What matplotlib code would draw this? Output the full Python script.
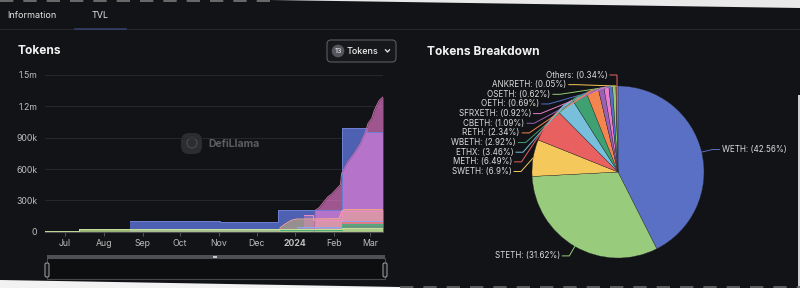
import numpy as np
import pandas as pd
import matplotlib
matplotlib.use('Agg')
import matplotlib.pyplot as plt
from matplotlib.patches import FancyBboxPatch, Rectangle, Circle, Polygon

plt.rcParams['font.family'] = ['Inter', 'DejaVu Sans']

# TVL per token, thousands of USD (value holds until next date)
steth_dates = ['2023-08-22', '2023-10-12', '2023-11-02', '2023-12-18', '2024-02-07', '2024-02-27', '2024-03-11']
steth_tvl = [105, 101, 95, 207, 997, 955, 955]

weth_dates = ['2024-01-16', '2024-01-17', '2024-01-20', '2024-01-23', '2024-01-27', '2024-01-30',
              '2024-02-02', '2024-02-06', '2024-02-07', '2024-02-12', '2024-02-17', '2024-02-22',
              '2024-02-26', '2024-02-28', '2024-03-02', '2024-03-04', '2024-03-06', '2024-03-08', '2024-03-11']
weth_tvl = [0, 205, 230, 275, 334, 360, 398, 450, 560, 670, 750, 845, 955, 1035, 1085, 1160, 1210, 1258, 1290]

sweth_dates = ['2023-12-19', '2023-12-20', '2023-12-24', '2023-12-29', '2024-01-02', '2024-02-05',
               '2024-02-07', '2024-02-09', '2024-03-11']
sweth_tvl = [0, 40, 75, 110, 121, 125, 195, 211, 211]

meth_dates = ['2024-01-08', '2024-01-15', '2024-02-07', '2024-03-11']
meth_tvl = [160, 108, 198, 198]

ethx_dates = ['2024-01-02', '2024-02-07', '2024-03-11']
ethx_tvl = [45, 106, 106]

wbeth_dates = ['2024-01-10', '2024-02-07', '2024-03-11']
wbeth_tvl = [30, 89, 89]

reth_dates = ['2023-12-20', '2024-02-07', '2024-03-11']
reth_tvl = [20, 71, 71]

cbeth_dates = ['2023-06-15', '2023-07-12', '2023-12-20', '2024-02-07', '2024-03-11']
cbeth_tvl = [10, 22, 26, 33, 33]

y_ticks = [0, 300, 600, 900, 1200, 1500]
month_labels = ['Jul', 'Aug', 'Sep', 'Oct', 'Nov', 'Dec', '2024', 'Feb', 'Mar']

# breakdown pie (%)
pie_names = ['WETH', 'STETH', 'SWETH', 'METH', 'ETHX', 'WBETH', 'RETH', 'CBETH',
             'SFRXETH', 'OETH', 'OSETH', 'ANKRETH', 'Others']
pie_share = [42.56, 31.62, 6.9, 6.49, 3.46, 2.92, 2.34, 1.09, 0.92, 0.69, 0.62, 0.05, 0.34]
pie_colors = ['#5a70c4', '#98cb7b', '#f5c85c', '#e8605f', '#78bfdc', '#3fa172', '#f5854f',
              '#9a60b4', '#e97ccb', '#5470c6', '#91cc75', '#fac858', '#ee6666']

BG = '#121316'
W, H = 800, 288

fig = plt.figure(figsize=(8, 2.88), dpi=100, facecolor=BG)

# page chrome, pixel coordinates
bg = fig.add_axes([0, 0, 1, 1])
bg.set_xlim(0, W)
bg.set_ylim(H, 0)
bg.axis('off')

bg.text(7, 16, 'Information', fontsize=6.5, color='#e6e6e6', va='center')
bg.text(92, 16, 'TVL', fontsize=6.5, color='#e6e6e6', va='center')
bg.plot([0, W], [28.5, 28.5], color='#25272b', lw=0.8)
bg.plot([75, 126], [28.5, 28.5], color='#34406a', lw=1.2)

bg.text(18, 51, 'Tokens', fontsize=8.6, weight='bold', color='#f2f2f2', va='center')
bg.text(427, 52, 'Tokens Breakdown', fontsize=8.6, weight='bold', color='#f2f2f2', va='center')

# "13 Tokens" selector
bg.add_patch(FancyBboxPatch((327, 40), 69, 22, boxstyle='round,pad=0,rounding_size=4',
                            fc='#17181b', ec='#5a5b60', lw=0.8))
bg.add_patch(Circle((338, 51), 6.3, fc='#55565d', ec='none'))
bg.text(338, 51.3, '13', fontsize=5.3, color='#f0f0f0', ha='center', va='center')
bg.text(347, 51.3, 'Tokens', fontsize=6.5, color='#f0f0f0', va='center', weight='medium')
bg.plot([385.5, 387.5, 389.5], [49.8, 52, 49.8], color='#f0f0f0', lw=0.9)

# watermark
bg.add_patch(FancyBboxPatch((181, 133), 21, 21, boxstyle='round,pad=0,rounding_size=8',
                            fc='#2c2d30', ec='none'))
bg.add_patch(Circle((192, 143), 5, fc='none', ec='#45464a', lw=1))
bg.text(208, 144, 'DefiLlama', fontsize=7.5, weight='bold', color='#5d5e62', va='center')

# zoom slider under the chart
bg.add_patch(Rectangle((47, 258), 338, 21, fc='#0d0e10', ec='#47484c', lw=0.8))
bg.add_patch(Rectangle((47, 255), 338, 4, fc='#4f5055', ec='none'))
bg.add_patch(Rectangle((213, 256), 4, 1.6, fc='#c8c8c8', ec='none'))
for hx in (47, 385):
    bg.add_patch(FancyBboxPatch((hx - 2, 263), 4, 14, boxstyle='round,pad=0,rounding_size=1.5',
                                fc='#16171a', ec='#a8a8a8', lw=0.7))

# photo edges
bg.add_patch(Polygon([(270, 0), (W, 0), (W, 7.5)], fc='#e9e9e9', ec='none'))
bg.add_patch(Polygon([(0, 280), (400, 287), (400, H), (0, H)], fc='#f2f2f2', ec='none'))
bg.add_patch(Rectangle((797.5, 95), 2.5, H - 95, fc='#cfcfcf', ec='none'))
bg.plot([0, 270], [0.8, 0.8], color='#7a7a7a', lw=1.2, dashes=(8, 6))
bg.plot([400, W], [287.2, 287.2], color='#6a6a6a', lw=1.2, dashes=(8, 6))

# ---- token TVL chart ----
ax = fig.add_axes([45 / W, (H - 231.7) / H, 338 / W, 156.7 / H])
ax.set_facecolor('none')

series = [
    # dates, values, fill, alpha, edge, stepped
    (steth_dates, steth_tvl, '#5367c0', 0.92, '#6c7fd0', True),
    (weth_dates, weth_tvl, '#f77fd9', 0.62, '#c46aa8', False),
    (sweth_dates, sweth_tvl, '#e2bf6e', 0.5, '#f6aa8c', False),
    (meth_dates, meth_tvl, '#f08bc5', 0.35, '#f08bc5', True),
    (ethx_dates, ethx_tvl, '#8aa0e8', 0.45, '#90a8ec', True),
    (wbeth_dates, wbeth_tvl, '#ee6666', 0.5, '#ee7777', True),
    (reth_dates, reth_tvl, '#3ba272', 0.7, '#48b07e', True),
    (cbeth_dates, cbeth_tvl, '#bad68d', 0.85, '#c9e09c', True),
]
for dates, vals, fc, a, ec, stepped in series:
    d = pd.to_datetime(dates)
    if stepped:
        ax.fill_between(d, vals, 0, step='post', color=fc, alpha=a, lw=0)
        ax.step(d, vals, where='post', color=ec, lw=0.7)
    else:
        ax.fill_between(d, vals, 0, color=fc, alpha=a, lw=0)
        ax.plot(d, vals, color=ec, lw=0.7)

ax.set_xlim(pd.Timestamp('2023-06-15'), pd.Timestamp('2024-03-11'))
ax.set_ylim(0, 1500)
ax.set_yticks(y_ticks)
ax.set_yticklabels(['0' if v == 0 else (f'{v / 1000:g}m' if v >= 1000 else f'{v}k') for v in y_ticks])
ax.set_xticks(pd.date_range('2023-07-01', '2024-03-01', freq='MS'))
ax.set_xticklabels(month_labels)
for t in ax.get_xticklabels():
    if t.get_text() == '2024':
        t.set_fontweight('bold')
        t.set_color('#f0f0f0')
ax.tick_params(axis='y', length=0, pad=5.5, labelsize=6.3, labelcolor='#bdbdbd')
ax.tick_params(axis='x', length=3, width=0.7, color='#55565a', pad=2, labelsize=6.3, labelcolor='#bdbdbd')
ax.grid(axis='y', color='#2a2b2f', lw=0.6)
ax.set_axisbelow(True)
for s in ('top', 'right', 'left'):
    ax.spines[s].set_visible(False)
ax.spines['bottom'].set_color('#4a4b4f')
ax.spines['bottom'].set_linewidth(0.8)

# ---- breakdown pie ----
r_px = 86.0
cx, cy = 618, 172
ax2 = fig.add_axes([(cx - r_px) / W, (H - cy - r_px) / H, 2 * r_px / W, 2 * r_px / H])
ax2.pie(pie_share, colors=pie_colors, startangle=90, counterclock=False, radius=1,
        wedgeprops=dict(linewidth=0.25, edgecolor='#2a2b30'))
ax2.set_xlim(-1, 1)
ax2.set_ylim(-1, 1)
ax2.axis('off')

R = 97.0 / r_px
len2 = 7.0 / r_px
gap = 2.5 / r_px
spacing = 9.65 / r_px
fr = np.array(pie_share) / sum(pie_share)
mids = (np.cumsum(fr) - fr / 2) * 2 * np.pi
ex, ey = np.sin(mids), np.cos(mids)
for side in (-1, 1):
    idx = [i for i in range(len(fr)) if (ex[i] < 0) == (side < 0)]
    idx.sort(key=lambda i: -ey[i])
    prev = None
    for i in idx:
        y = R * ey[i]
        if prev is not None and y > prev - spacing:
            y = prev - spacing
        prev = y
        xb = side * np.sqrt(max(R ** 2 - y ** 2, 0))
        xe = xb + side * len2
        ax2.plot([ex[i], xb, xe], [ey[i], y, y], color=pie_colors[i], lw=0.7, clip_on=False)
        ax2.text(xe + side * gap, y, f'{pie_names[i]}: ({pie_share[i]:g}%)', fontsize=5.8,
                 color='#dcdcdc', ha='left' if side > 0 else 'right', va='center', clip_on=False)

fig.savefig('out.png', dpi=100, facecolor=BG)
